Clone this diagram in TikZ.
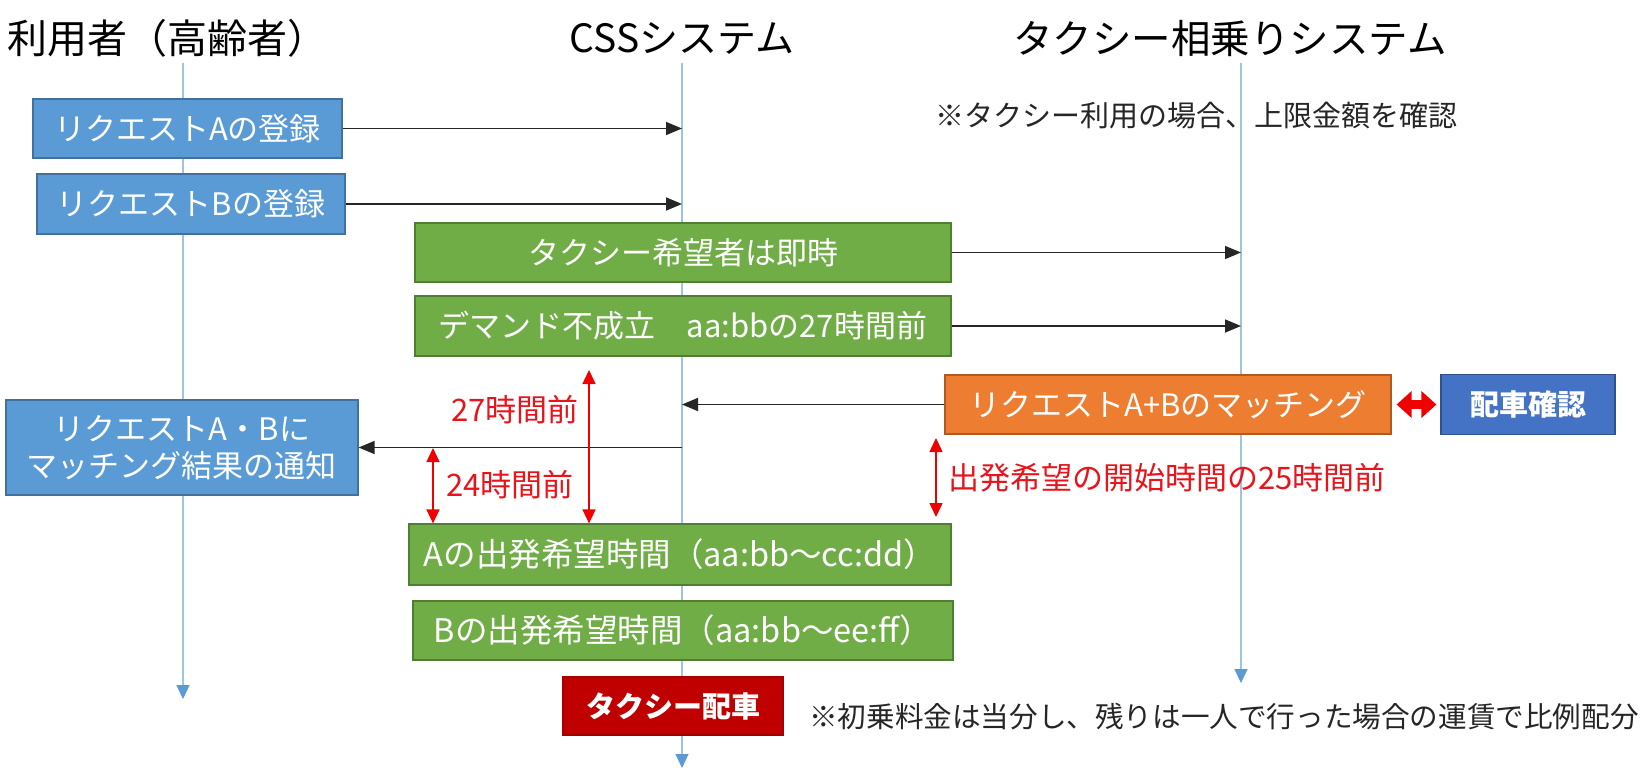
\documentclass[tikz,border=0pt]{standalone}
\usepackage{fontspec}
\setmainfont{Noto Sans CJK JP}
\usetikzlibrary{arrows.meta}
\definecolor{cBlue}{HTML}{5B9BD5}
\definecolor{cBlueD}{HTML}{41719C}
\definecolor{cGreen}{HTML}{70AD47}
\definecolor{cGreenD}{HTML}{507E32}
\definecolor{cOrange}{HTML}{ED7D31}
\definecolor{cOrangeD}{HTML}{AE5A21}
\definecolor{cNavy}{HTML}{4472C4}
\definecolor{cNavyD}{HTML}{2F528F}
\definecolor{cRed}{HTML}{C00000}
\definecolor{cRedD}{HTML}{A50000}
\definecolor{cLife}{HTML}{9DC3E6}
\definecolor{cMsg}{HTML}{262626}
\definecolor{cRedA}{HTML}{F00000}
\definecolor{cRedT}{HTML}{E8141B}
\definecolor{cNote}{HTML}{262626}
\tikzset{
  base/.style={inner sep=0pt, align=center, text=white, font=\fontsize{31}{37}\selectfont, line width=1.2pt},
  bluebox/.style={base, fill=cBlue, draw=cBlueD},
  greenbox/.style={base, fill=cGreen, draw=cGreenD},
  orangebox/.style={base, fill=cOrange, draw=cOrangeD},
  navybox/.style={base, fill=cNavy, draw=cNavyD, font=\fontsize{29}{35}\selectfont\bfseries},
  redbox/.style={base, fill=cRed, draw=cRedD, font=\fontsize{29}{35}\selectfont\bfseries},
  msg/.style={-{Triangle[length=16pt,width=13pt]}, line width=1.6pt, draw=cMsg},
  life/.style={draw=cLife, line width=1.2pt, -{Triangle[length=14pt,width=13pt,color=cBlue]}},
  dim/.style={{Triangle[length=14pt,width=13pt]}-{Triangle[length=14pt,width=13pt]}, draw=cRedA, line width=1.5pt},
  dimlbl/.style={text=cRedT, font=\fontsize{31}{37}\selectfont, inner sep=0pt, anchor=west},
  titletext/.style={font=\fontsize{40}{48}\selectfont, text=black, inner sep=0pt},
  notetext/.style={font=\fontsize{29}{35}\selectfont, text=cNote, inner sep=0pt},
}
\begin{document}
\begin{tikzpicture}[x=1pt,y=-1pt]
\useasboundingbox (0,0) rectangle (1650,769);
\fill[white] (0,0) rectangle (1650,769);

% titles
\node[titletext] (tU) at (168,38) {利用者（高齢者）};
\node[titletext, font=\fontsize{39}{46}\selectfont] (tC) at (682,38) {CSSシステム};
\node[titletext, font=\fontsize{39.5}{46}\selectfont] (tT) at (1230,38) {タクシー相乗りシステム};

% lifelines
\coordinate (uTop) at (183,63);
\coordinate (uBot) at (183,699);
\coordinate (cTop) at (682,63);
\coordinate (cBot) at (682,768);
\coordinate (tTop) at (1241,63);
\coordinate (tBot) at (1241,683);
\draw[life] (uTop) -- (uBot);
\draw[life] (cTop) -- (cBot);
\draw[life] (tTop) -- (tBot);

% note top
\node[notetext] (n1) at (1196,116) {※タクシー利用の場合、上限金額を確認};

% boxes
\node[bluebox, minimum width=309pt, minimum height=59pt] (bA) at (187.5,128.5) {リクエストAの登録};
\node[bluebox, minimum width=308pt, minimum height=60pt] (bB) at (191,204) {リクエストBの登録};
\node[greenbox, minimum width=536pt, minimum height=59pt] (g1) at (683,252.5) {タクシー希望者は即時};
\node[greenbox, minimum width=536pt, minimum height=60pt] (g2) at (683,326) {デマンド不成立　aa:bbの27時間前};
\node[orangebox, minimum width=446pt, minimum height=59pt] (or) at (1168,404.5) {リクエストA+Bのマッチング};
\node[navybox, minimum width=174pt, minimum height=60pt] (hk) at (1528,404.5) {配車確認};
\node[bluebox, minimum width=352pt, minimum height=95pt] (nt) at (182,447.5) {リクエストA・Bに\\マッチング結果の通知};
\node[greenbox, font=\fontsize{32.5}{38}\selectfont, minimum width=542pt, minimum height=61pt] (gA) at (680,554.5) {Aの出発希望時間（aa:bb～cc:dd）};
\node[greenbox, font=\fontsize{32.5}{38}\selectfont, minimum width=540pt, minimum height=59pt] (gB) at (683,630.5) {Bの出発希望時間（aa:bb～ee:ff）};
\node[redbox, minimum width=220pt, minimum height=58pt] (rd) at (673,706) {タクシー配車};
\node[notetext, font=\fontsize{28.6}{34}\selectfont, anchor=west] (n2) at (809,717) {※初乗料金は当分し、残りは一人で行った場合の運賃で比例配分};

% messages
\coordinate (cA) at (682,128.5);
\coordinate (cB) at (682,204);
\coordinate (t1) at (1241,252.5);
\coordinate (t2) at (1241,326);
\coordinate (c3) at (682,404.5);
\coordinate (c4) at (682,447.5);
\draw[msg] (bA.east) -- (cA);
\draw[msg] (bB.east) -- (cB);
\draw[msg] (g1.east) -- (t1);
\draw[msg] (g2.east) -- (t2);
\draw[msg] (or.west) -- (c3);
\draw[msg] (c4) -- (nt.east);

% double arrow
\draw[line width=9pt, draw=cRedA, {Triangle[length=15pt,width=26pt]}-{Triangle[length=15pt,width=26pt]}] ([xshift=5pt]or.east) -- ([xshift=-4pt]hk.west);

% red dimension arrows
\coordinate (d27) at (589,370);
\coordinate (d24) at (433,448);
\coordinate (d25a) at (936,438);
\coordinate (d25b) at (936,517);
\draw[dim] (d27) -- (d27 |- gA.north);
\draw[dim] (d24) -- (d24 |- gA.north);
\draw[dim] (d25a) -- (d25b);
\node[dimlbl] (l27) at (451,410) {27時間前};
\node[dimlbl] (l24) at (446,485) {24時間前};
\node[dimlbl] (l25) at (948,478) {出発希望の開始時間の25時間前};
\end{tikzpicture}
\end{document}
